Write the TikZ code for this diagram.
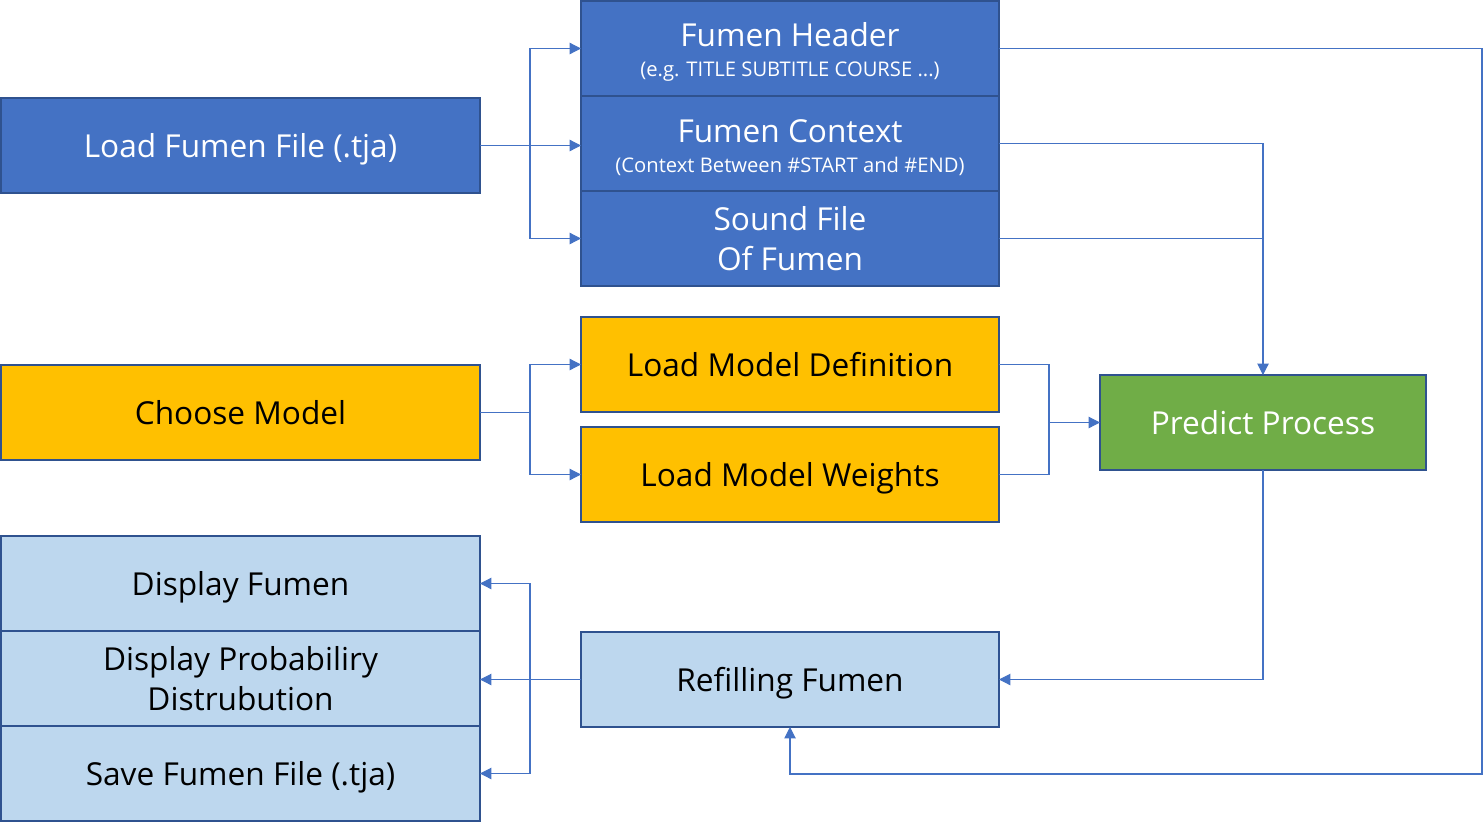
\documentclass[tikz,border=0pt]{standalone}
\usepackage{fontspec}
\setmainfont{Open Sans}
\usetikzlibrary{arrows.meta}
\definecolor{bluefill}{HTML}{4472C4}
\definecolor{edge}{HTML}{2F528F}
\definecolor{yel}{HTML}{FFC000}
\definecolor{grn}{HTML}{70AD47}
\definecolor{lblue}{HTML}{BDD7EE}
\definecolor{linec}{HTML}{4472C4}
\tikzset{
  box/.style={draw=edge, line width=1.4pt, inner sep=0pt, outer sep=0pt, minimum height=1.9cm, align=center, font=\fontsize{18}{23}\selectfont},
  one/.style={text depth=0pt},
  wide/.style={box, minimum width=9.58cm},
  mid/.style={box, minimum width=8.36cm},
  darkb/.style={fill=bluefill, text=white},
  yb/.style={fill=yel, text=black},
  gb/.style={fill=grn, text=white},
  lb/.style={fill=lblue, text=black},
  conn/.style={draw=linec, line width=0.6pt},
  arr/.style={conn, -{Triangle[length=6.5pt,width=6.5pt]}}
}
\newcommand{\subtxt}[1]{{\fontsize{11.5}{13}\selectfont #1}}
\begin{document}
\begin{tikzpicture}[x=0.02cm,y=-0.02cm]
\useasboundingbox (0,0) rectangle (1484,822);
% nodes
\node[wide,darkb,one] (load) at (240.5,145.5) {Load Fumen File (.tja)};
\node[mid,darkb] (head) at (790,48.5) {\rule{0pt}{17.7pt}Fumen Header\\[-5.7pt]\subtxt{(e.g. TITLE SUBTITLE COURSE ...)}};
\node[mid,darkb] (ctx) at (790,143.5) {\rule{0pt}{17.7pt}Fumen Context\\[-5.7pt]\subtxt{(Context Between \#START and \#END)}};
\node[mid,darkb] (snd) at (790,238.5) {Sound File\\Of Fumen};
\node[wide,yb,one] (choose) at (240.5,412.5) {Choose Model};
\node[mid,yb,one] (def) at (790,364.5) {Load Model Definition};
\node[mid,yb,one] (wts) at (790,474.5) {Load Model Weights};
\node[box,gb,one,minimum width=6.52cm] (pred) at (1263,422.5) {Predict Process};
\node[wide,lb,one] (disp) at (240.5,583.5) {Display Fumen};
\node[wide,lb] (prob) at (240.5,678.5) {Display Probabiliry\\Distrubution};
\node[wide,lb,one] (save) at (240.5,773.5) {Save Fumen File (.tja)};
\node[mid,lb,one] (refill) at (790,679.5) {Refilling Fumen};
% junctions
\coordinate (j1) at (530,145.5);
\coordinate (j3) at (530,412.5);
\coordinate (j4) at (1049,422.5);
\coordinate (j5) at (530,679.5);
\coordinate (r1) at (1482,774);
% connectors
\draw[conn] (load.east) -- (j1);
\draw[arr] (j1) |- (head.west);
\draw[arr] (j1) -- (j1 -| ctx.west);
\draw[arr] (j1) |- (snd.west);
\draw[arr] (head.east) -| (r1) -| (refill.south);
\draw[arr] (ctx.east) -| (pred.north);
\draw[conn] (snd.east) -- (snd.east -| pred.north);
\draw[conn] (choose.east) -- (j3);
\draw[arr] (j3) |- (def.west);
\draw[arr] (j3) |- (wts.west);
\draw[conn] (def.east) -| (j4);
\draw[conn] (wts.east) -| (j4);
\draw[arr] (j4) -- (pred.west);
\draw[arr] (pred.south) |- (refill.east);
\draw[conn] (refill.west) -- (j5);
\draw[arr] (j5) |- (disp.east);
\draw[arr] (j5) -- (j5 -| prob.east);
\draw[arr] (j5) |- (save.east);
\end{tikzpicture}
\end{document}
